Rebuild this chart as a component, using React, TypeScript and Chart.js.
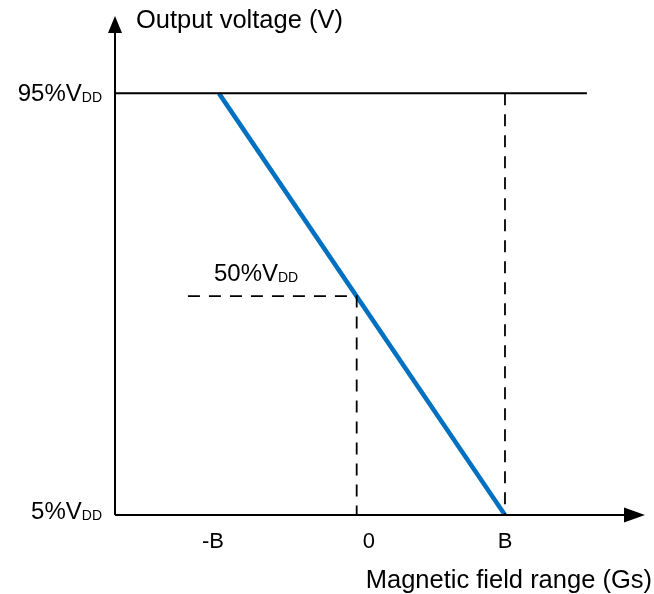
import React, { useEffect, useRef } from "react";
import { Chart, registerables } from "chart.js";

Chart.register(...registerables);

// Field axis: -B = -1, 0, B = 1 ; output axis in % of VDD
const xTickValues = [-1, 0, 1];
const xTickLabels = ["-B", "0", "B"];
const yTickValues = [95, 5];
const yTickLabels = ["95%", "5%"];
const transferX = [-1, 1];
const transferY = [95, 5];
const highLevelX = [-1.727, 1.573];
const highLevelY = [95, 95];
const bDashX = [1, 1];
const bDashY = [95, 5];
const midDashX = [-1.217, -0.037, -0.037];
const midDashY = [51.7, 51.7, 5];
const midLabel = "50%";
const yTitle = "Output voltage (V)";
const xTitle = "Magnetic field range (Gs)";

const zip = (xs: number[], ys: number[]) => xs.map((x, i) => ({ x, y: ys[i] }));

const FONT = "Arial, 'Liberation Sans', sans-serif";

const overlay = {
  id: "overlay",
  afterDatasetsDraw(chart: any) {
    const { ctx, chartArea, scales } = chart;
    const xs = scales.x;
    const ys = scales.y;
    const x0 = chartArea.left;
    const yb = chartArea.bottom;
    ctx.save();
    // axes
    ctx.strokeStyle = "#000";
    ctx.fillStyle = "#000";
    ctx.lineWidth = 2;
    ctx.beginPath();
    ctx.moveTo(x0, yb);
    ctx.lineTo(x0, chartArea.top + 12);
    ctx.moveTo(x0, yb);
    ctx.lineTo(chartArea.right - 12, yb);
    ctx.stroke();
    // y arrow
    ctx.beginPath();
    ctx.moveTo(x0, chartArea.top - 1);
    ctx.lineTo(x0 - 7, chartArea.top + 16);
    ctx.lineTo(x0 + 7, chartArea.top + 16);
    ctx.closePath();
    ctx.fill();
    // x arrow
    ctx.beginPath();
    ctx.moveTo(chartArea.right, yb);
    ctx.lineTo(chartArea.right - 21, yb - 7.5);
    ctx.lineTo(chartArea.right - 21, yb + 7.5);
    ctx.closePath();
    ctx.fill();

    // x tick labels
    ctx.font = `22px ${FONT}`;
    ctx.textAlign = "center";
    ctx.textBaseline = "alphabetic";
    const xOffsets = [-6, 7, 0];
    xTickValues.forEach((v, i) => {
      ctx.fillText(xTickLabels[i], xs.getPixelForValue(v) + xOffsets[i], 548);
    });

    // label with subscript DD
    const vdd = (main: string, rx: number | null, lx: number | null, base: number) => {
      ctx.textAlign = "left";
      ctx.font = `24px ${FONT}`;
      const mainText = main + "V";
      const mw = ctx.measureText(mainText).width;
      ctx.font = `14px ${FONT}`;
      const sw = ctx.measureText("DD").width;
      const left = lx !== null ? lx : (rx as number) - mw - sw;
      ctx.font = `24px ${FONT}`;
      ctx.fillText(mainText, left, base);
      ctx.font = `14px ${FONT}`;
      ctx.fillText("DD", left + mw, base + 1);
    };
    const yOffsets = [8, 3.5];
    yTickValues.forEach((v, i) => {
      vdd(yTickLabels[i], 102, null, ys.getPixelForValue(v) + yOffsets[i]);
    });
    vdd(midLabel, null, xs.getPixelForValue(midDashX[0]) + 26, ys.getPixelForValue(midDashY[0]) - 15);

    // titles
    ctx.font = `25.5px ${FONT}`;
    ctx.textAlign = "left";
    ctx.fillText(yTitle, 136, 28);
    ctx.textAlign = "right";
    ctx.fillText(xTitle, 652, 588);
    ctx.restore();
  },
};

export default function App() {
  const ref = useRef<HTMLCanvasElement>(null);
  useEffect(() => {
    if (!ref.current) return;
    const chart = new Chart(ref.current, {
      type: "scatter",
      data: {
        datasets: [
          {
            data: zip(highLevelX, highLevelY),
            showLine: true,
            borderColor: "#000",
            borderWidth: 2,
            pointRadius: 0,
          },
          {
            data: zip(bDashX, bDashY),
            showLine: true,
            borderColor: "#000",
            borderWidth: 1.8,
            borderDash: [12, 9],
            pointRadius: 0,
          },
          {
            data: zip(midDashX, midDashY),
            showLine: true,
            borderColor: "#000",
            borderWidth: 1.8,
            borderDash: [12, 9],
            pointRadius: 0,
          },
          {
            data: zip(transferX, transferY),
            showLine: true,
            borderColor: "#0070C0",
            borderWidth: 4.5,
            pointRadius: 0,
          },
        ],
      },
      options: {
        responsive: false,
        animation: false,
        layout: { padding: { left: 115, right: 9, top: 17, bottom: 79 } },
        plugins: { legend: { display: false }, tooltip: { enabled: false } },
        scales: {
          x: { type: "linear", min: -1.727, max: 1.979, display: false },
          y: { type: "linear", min: 5, max: 111.3, display: false },
        },
      },
      plugins: [overlay],
    });
    return () => chart.destroy();
  }, []);
  return (
    <div style={{ position: "absolute", left: 0, top: 0, width: 654, height: 594, background: "#fff" }}>
      <canvas ref={ref} width={654} height={594} />
    </div>
  );
}
